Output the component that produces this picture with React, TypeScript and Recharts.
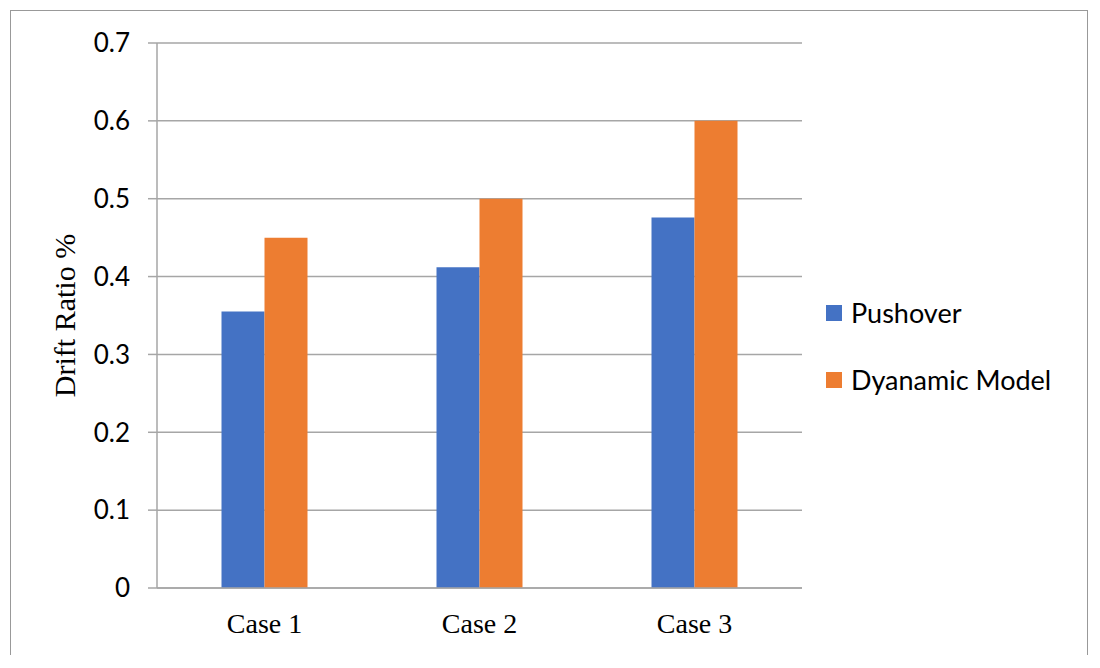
import React from 'react';
import { BarChart, Bar, XAxis, YAxis, CartesianGrid } from 'recharts';

const cases = ['Case 1', 'Case 2', 'Case 3'];
const pushover = [0.355, 0.412, 0.476];
const dynamicModel = [0.45, 0.5, 0.6];
const yTicks = [0, 0.1, 0.2, 0.3, 0.4, 0.5, 0.6, 0.7];

const BLUE = '#4472C4';
const ORANGE = '#ED7D31';
const GRID = '#a6a6a6';

const data = cases.map((c, i) => ({ name: c, pushover: pushover[i], dynamic: dynamicModel[i] }));

const legendItems = [
  { label: 'Pushover', color: BLUE },
  { label: 'Dyanamic Model', color: ORANGE },
];

const LegendBox = () => (
  <div
    style={{
      position: 'absolute',
      left: 815,
      top: 268,
      fontFamily: 'Lato, sans-serif',
      fontSize: 27,
      color: '#000',
    }}
  >
    {legendItems.map((it) => (
      <div key={it.label} style={{ display: 'flex', alignItems: 'center', height: 67 }}>
        <span style={{ display: 'inline-block', width: 16, height: 16, background: it.color, marginRight: 9 }} />
        <span>{it.label}</span>
      </div>
    ))}
  </div>
);

export default function App() {
  return (
    <div
      style={{
        position: 'relative',
        left: 2,
        top: 2,
        width: 1078,
        height: 647,
        boxSizing: 'border-box',
        border: '1.5px solid #999',
        background: '#fff',
        overflow: 'hidden',
      }}
    >
      <BarChart
        width={1075}
        height={644}
        data={data}
        margin={{ top: 32, right: 284, left: 0, bottom: 0 }}
        barCategoryGap="30%"
        barGap={0}
      >
        <CartesianGrid vertical={false} stroke={GRID} strokeWidth={1.5} />
        <XAxis
          dataKey="name"
          height={67}
          axisLine={{ stroke: GRID, strokeWidth: 1.5 }}
          tickLine={false}
          tickSize={0}
          tickMargin={25}
          tick={{ fill: '#000', fontSize: 28, fontFamily: '"Liberation Serif", "Times New Roman", serif' }}
        />
        <YAxis
          width={146}
          domain={[0, 0.7]}
          ticks={yTicks}
          interval={0}
          axisLine={{ stroke: GRID, strokeWidth: 1.5 }}
          tickLine={{ stroke: GRID, strokeWidth: 1.5 }}
          tickSize={9}
          tickMargin={18}
          tickFormatter={(v: number) => (v === 0 ? '0' : v.toFixed(1))}
          tick={{ fill: '#000', fontSize: 26, fontFamily: 'Lato, sans-serif' }}
          label={(props: any) => {
            const vb = props.viewBox || { x: 0, y: 32, height: 545 };
            const x = vb.x + 64;
            const y = vb.y + vb.height / 2;
            return (
              <text
                x={x}
                y={y}
                transform={`rotate(-90, ${x}, ${y})`}
                textAnchor="middle"
                fill="#000"
                fontSize={30}
                fontFamily='"Liberation Serif", "Times New Roman", serif'
              >
                Drift Ratio %
              </text>
            );
          }}
        />
        <Bar dataKey="pushover" name="Pushover" fill={BLUE} isAnimationActive={false} />
        <Bar dataKey="dynamic" name="Dyanamic Model" fill={ORANGE} isAnimationActive={false} />
      </BarChart>
      <LegendBox />
    </div>
  );
}
